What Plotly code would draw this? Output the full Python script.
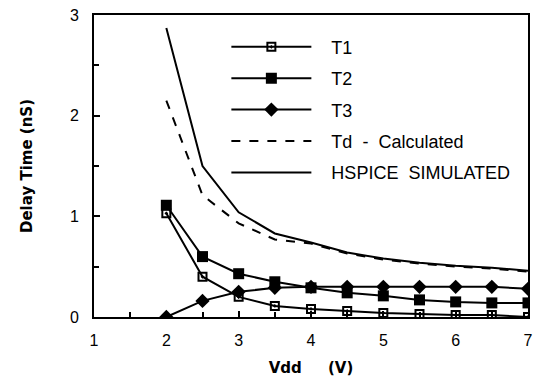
import plotly.graph_objects as go

vdd = [2, 2.5, 3, 3.5, 4, 4.5, 5, 5.5, 6, 6.5, 7]
t1 = [1.03, 0.40, 0.20, 0.11, 0.08, 0.06, 0.04, 0.03, 0.02, 0.02, 0.0]
t2 = [1.11, 0.60, 0.43, 0.35, 0.29, 0.24, 0.21, 0.17, 0.15, 0.14, 0.14]
t3 = [0.0, 0.16, 0.25, 0.29, 0.30, 0.30, 0.30, 0.30, 0.30, 0.30, 0.28]
td_calc = [2.15, 1.21, 0.93, 0.77, 0.73, 0.63, 0.57, 0.53, 0.50, 0.48, 0.45]
hspice = [2.87, 1.50, 1.04, 0.83, 0.74, 0.64, 0.58, 0.54, 0.51, 0.49, 0.46]

x_ticks = [1, 2, 3, 4, 5, 6, 7]
y_ticks = [0, 1, 2, 3]

FONT = "Liberation Sans, Arial, sans-serif"
BOLD = "DejaVu Sans, sans-serif"
PAD = "\u00a0\u00a0\u00a0"

fig = go.Figure()
fig.add_trace(go.Scatter(x=vdd, y=t1, name=PAD + "T1", mode="lines+markers", legendgroup="a",
                         line=dict(color="black", width=2),
                         marker=dict(symbol="square-open-dot", size=8, color="black",
                                     line=dict(width=2, color="black"))))
fig.add_trace(go.Scatter(x=vdd, y=t2, name=PAD + "T2", mode="lines+markers", legendgroup="b",
                         line=dict(color="black", width=2),
                         marker=dict(symbol="square", size=11, color="black")))
fig.add_trace(go.Scatter(x=vdd, y=t3, name=PAD + "T3", mode="lines+markers", legendgroup="c",
                         line=dict(color="black", width=2),
                         marker=dict(symbol="diamond", size=11, color="black")))
fig.add_trace(go.Scatter(x=vdd, y=td_calc, name=PAD + "Td\u00a0 - \u00a0Calculated", mode="lines",
                         legendgroup="d", line=dict(color="black", width=2, dash="dash")))
fig.add_trace(go.Scatter(x=vdd, y=hspice, name=PAD + "HSPICE\u00a0 SIMULATED", mode="lines",
                         legendgroup="e", line=dict(color="black", width=2)))

fig.update_layout(
    width=543, height=383,
    margin=dict(l=94, r=15, t=15, b=66),
    paper_bgcolor="white", plot_bgcolor="white",
    font=dict(family=FONT, size=16, color="black"),
    showlegend=True,
    legend=dict(x=0.305, y=0.955, xanchor="left", yanchor="top",
                bgcolor="rgba(0,0,0,0)", tracegroupgap=5, itemwidth=80,
                font=dict(family=FONT, size=18, color="black")),
    xaxis=dict(range=[1, 7], tickvals=x_ticks, ticktext=[str(v) for v in x_ticks],
               ticks="inside", ticklen=6, tickwidth=2, tickcolor="black",
               ticklabelstandoff=8, automargin=False,
               minor=dict(dtick=0.5, ticks="inside", ticklen=5, tickwidth=2, tickcolor="black"),
               showline=True, linecolor="black", linewidth=2, mirror=True,
               showgrid=False, zeroline=False,
               title=dict(text="Vdd\u00a0\u00a0\u00a0\u00a0\u00a0(V)",
                          font=dict(family=BOLD, size=15, weight="bold"), standoff=14)),
    yaxis=dict(range=[0, 3], tickvals=y_ticks, ticktext=[str(v) for v in y_ticks],
               ticks="inside", ticklen=6, tickwidth=2, tickcolor="black",
               ticklabelstandoff=10, automargin=False,
               minor=dict(dtick=0.5, ticks="inside", ticklen=5, tickwidth=2, tickcolor="black"),
               showline=True, linecolor="black", linewidth=2, mirror=True,
               showgrid=False, zeroline=False,
               title=dict(text="Delay Time (nS)",
                          font=dict(family=BOLD, size=15, weight="bold"), standoff=34)),
)

fig.write_html("out.html")
